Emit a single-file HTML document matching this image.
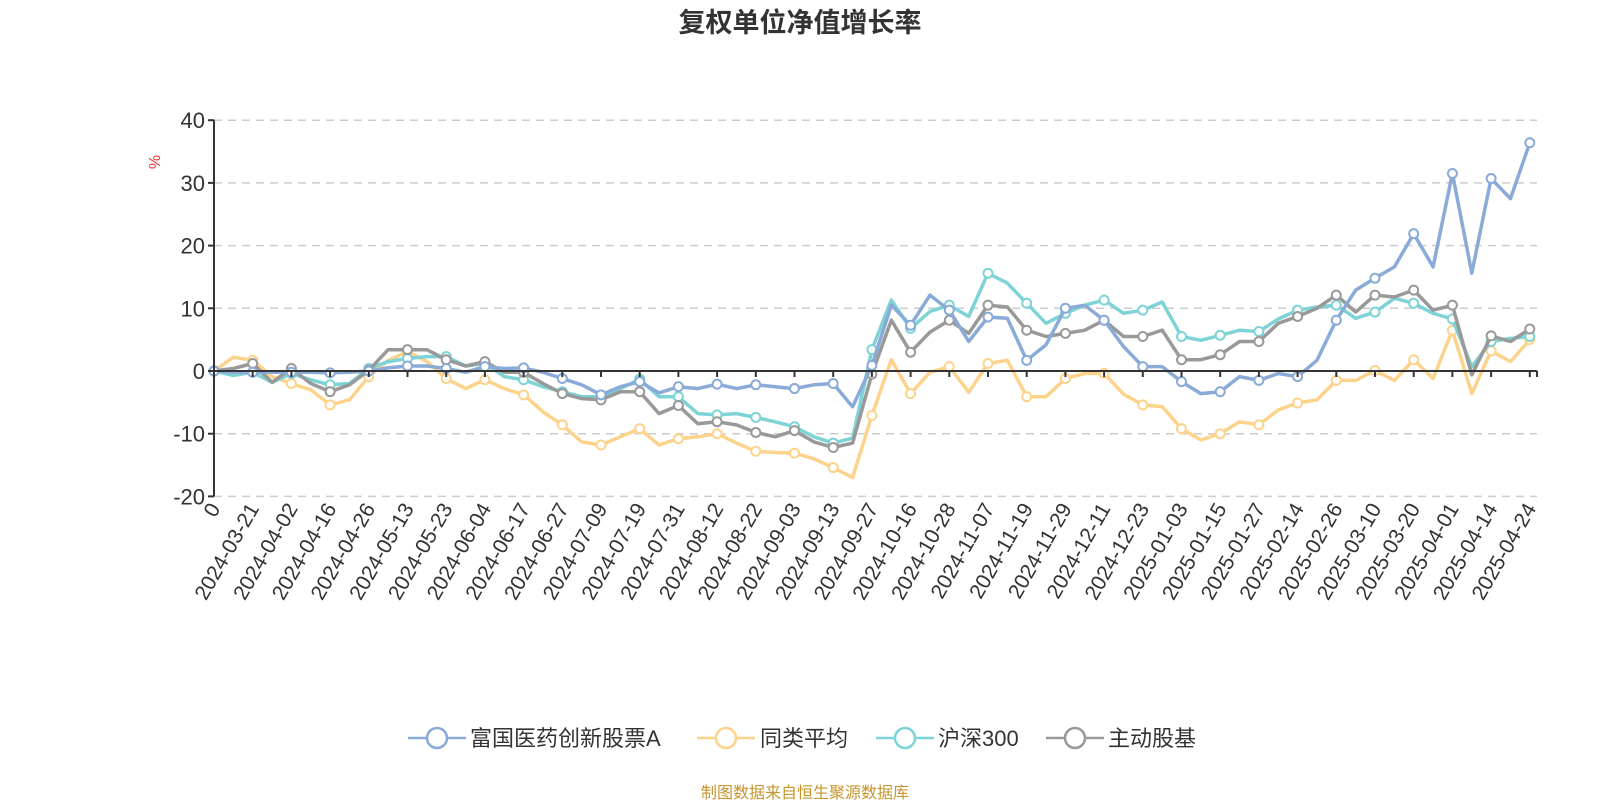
<!DOCTYPE html>
<html><head><meta charset="utf-8"><style>
body{margin:0;background:#fff;width:1600px;height:800px;overflow:hidden;font-family:"Liberation Sans","Noto Sans CJK SC",sans-serif}
</style></head><body>
<svg id="chart" width="1600" height="800" xmlns="http://www.w3.org/2000/svg" font-family="Liberation Sans, Noto Sans CJK SC, sans-serif">
<text x="800" y="32" text-anchor="middle" font-size="27" font-weight="bold" fill="#333">复权单位净值增长率</text>
<text x="0" y="0" transform="translate(160,162) rotate(-90)" text-anchor="middle" font-size="16" fill="#e33">%</text>
<g id="grid"></g><g id="series"></g><g id="axes"></g>
<g font-size="22" fill="#333">
<g><line x1="408" y1="738" x2="466" y2="738" stroke="#8aaad8" stroke-width="2.5"/><circle cx="437" cy="738" r="10" fill="#fff" stroke="#8aaad8" stroke-width="2.5"/><text x="470" y="746">富国医药创新股票A</text></g>
<g><line x1="697" y1="738" x2="755" y2="738" stroke="#fdd38c" stroke-width="2.5"/><circle cx="726" cy="738" r="10" fill="#fff" stroke="#fdd38c" stroke-width="2.5"/><text x="760" y="746">同类平均</text></g>
<g><line x1="876" y1="738" x2="934" y2="738" stroke="#7dd3d6" stroke-width="2.5"/><circle cx="905" cy="738" r="10" fill="#fff" stroke="#7dd3d6" stroke-width="2.5"/><text x="938" y="746">沪深300</text></g>
<g><line x1="1046" y1="738" x2="1104" y2="738" stroke="#999" stroke-width="2.5"/><circle cx="1075" cy="738" r="10" fill="#fff" stroke="#999" stroke-width="2.5"/><text x="1108" y="746">主动股基</text></g>
</g>
<text x="805" y="798" text-anchor="middle" font-size="16" fill="#c8952c">制图数据来自恒生聚源数据库</text>
</svg>
<script>
const tickLabels=["0","2024-03-21","2024-04-02","2024-04-16","2024-04-26","2024-05-13","2024-05-23","2024-06-04","2024-06-17","2024-06-27","2024-07-09","2024-07-19","2024-07-31","2024-08-12","2024-08-22","2024-09-03","2024-09-13","2024-09-27","2024-10-16","2024-10-28","2024-11-07","2024-11-19","2024-11-29","2024-12-11","2024-12-23","2025-01-03","2025-01-15","2025-01-27","2025-02-14","2025-02-26","2025-03-10","2025-03-20","2025-04-01","2025-04-14","2025-04-24"];
const yTicks=[40,30,20,10,0,-10,-20];
const fundValues=[0,-0.2,-0.2,-0.2,-0.2,-0.2,-0.3,-0.2,0,0.5,0.8,0.8,0.4,-0.2,0.7,0.4,0.5,-0.2,-1.2,-2.2,-3.8,-2.5,-1.7,-3.5,-2.5,-2.8,-2.1,-2.8,-2.2,-2.5,-2.8,-2.2,-2.0,-5.7,0.9,10.5,7.3,12.1,9.7,4.7,8.6,8.4,1.7,4.2,10,10.5,8.1,3.9,0.7,0.7,-1.7,-3.6,-3.3,-0.9,-1.5,-0.4,-0.9,1.7,8.1,12.9,14.8,16.6,21.9,16.6,31.5,15.6,30.7,27.5,36.4];
const peerValues=[0,2.2,1.7,-0.9,-2,-3,-5.4,-4.6,-0.9,1.7,3.1,1.5,-1.2,-2.8,-1.4,-2.8,-3.8,-6.5,-8.6,-11.3,-11.8,-10.5,-9.2,-11.8,-10.8,-10.5,-10,-11.5,-12.8,-13,-13.1,-14,-15.4,-17,-7.1,1.8,-3.6,-0.2,0.7,-3.4,1.2,1.7,-4.1,-4.1,-1.2,-0.4,-0.4,-3.7,-5.4,-5.7,-9.2,-11,-10,-8.1,-8.6,-6.2,-5.1,-4.6,-1.5,-1.5,0.1,-1.5,1.8,-1.2,6.5,-3.6,3.2,1.5,5];
const csi300Values=[0,-0.7,-0.2,-1.8,-0.4,-1.4,-2.2,-2,0.4,1.5,2,2.3,2.3,0.8,1.2,-0.9,-1.4,-2.5,-3.3,-4.1,-4.1,-2.8,-1.3,-4.1,-4.1,-6.8,-7,-6.8,-7.4,-8.1,-8.9,-10.5,-11.5,-10.7,3.4,11.3,6.8,9.5,10.5,8.7,15.6,14,10.8,7.6,9.2,10.5,11.3,9.2,9.7,11,5.5,4.9,5.7,6.5,6.3,8.3,9.7,10.2,10.5,8.4,9.4,11.6,10.8,9.2,8.3,0.7,4.7,5.2,5.5];
const activeValues=[0,0.4,1.2,-1.8,0.4,-2,-3.3,-2.2,0.1,3.4,3.4,3.4,1.8,0.8,1.5,-0.2,-0.2,-2,-3.6,-4.4,-4.6,-3.3,-3.3,-6.8,-5.5,-8.4,-8.1,-8.6,-9.8,-10.5,-9.5,-11.3,-12.2,-11.5,-0.5,8.1,3,6.2,8.1,6,10.5,10.2,6.5,5.5,6,6.5,8.1,5.5,5.5,6.5,1.8,1.8,2.6,4.7,4.7,7.6,8.7,10,12.1,9.4,12.1,11.8,12.9,9.7,10.5,-0.6,5.6,4.7,6.7];
const NS="http://www.w3.org/2000/svg";
const X0=214,X1=1537,STEP=19.35,Y0=371,PPU=6.27,LABEL_EVERY=2;
const xs=i=>X0+i*STEP, ys=v=>Y0-v*PPU;
function mk(t,a,p){const e=document.createElementNS(NS,t);for(const k in a)e.setAttribute(k,a[k]);p.appendChild(e);return e;}
const grid=document.getElementById('grid'),axes=document.getElementById('axes'),ser=document.getElementById('series');
yTicks.forEach(v=>{
  if(v!==0){const g=mk('line',{x1:X0,x2:X1,y1:ys(v),y2:ys(v),stroke:'#ccc','stroke-width':1.5,'stroke-dasharray':'8,6'},grid);
  
  }
  const t=mk('text',{x:X0-9,y:ys(v)+8,'text-anchor':'end','font-size':22,fill:'#333'},axes);
  
  
  t.textContent=v;
  mk('line',{x1:X0-6,x2:X0,y1:ys(v),y2:ys(v),stroke:'#333','stroke-width':2},axes);
});
const ya=mk('line',{x1:X0,x2:X0,y1:ys(40),y2:ys(-20),stroke:'#333','stroke-width':2},axes);


const xa=mk('line',{x1:X0,x2:X1,y1:Y0,y2:Y0,stroke:'#333','stroke-width':2},axes);


tickLabels.forEach((lab,k)=>{
  const x=xs(k*LABEL_EVERY);
  mk('line',{x1:x,x2:x,y1:Y0,y2:Y0+6,stroke:'#333','stroke-width':2},axes);
  const t=mk('text',{x:0,y:0,transform:`translate(${x+7},${ys(-20)+12}) rotate(-60)`,'text-anchor':'end','font-size':21,fill:'#333'},axes);
  
  
  t.textContent=lab;
});
mk('line',{x1:X1,x2:X1,y1:Y0,y2:Y0+6,stroke:'#333','stroke-width':2},axes);
const seriesList=[['peer-average-line',peerValues,'#fdd38c'],['csi300-line',csi300Values,'#7dd3d6'],['active-equity-line',activeValues,'#999'],['fund-line',fundValues,'#8aaad8']];
seriesList.forEach(([name,vals,col])=>{
  const g=mk('g',{},ser);
  
  
  const d=vals.map((v,i)=>(i?'L':'M')+xs(i).toFixed(1)+','+ys(v).toFixed(1)).join('');
  mk('path',{d:d,fill:'none',stroke:col,'stroke-width':3.5,'stroke-linejoin':'round'},g);
  vals.forEach((v,i)=>{if(i%LABEL_EVERY===0){
    const c=mk('circle',{cx:xs(i),cy:ys(v),r:4.5,fill:'#fff',stroke:col,'stroke-width':2},g);
    
    
  }});
});
</script>
</body></html>
